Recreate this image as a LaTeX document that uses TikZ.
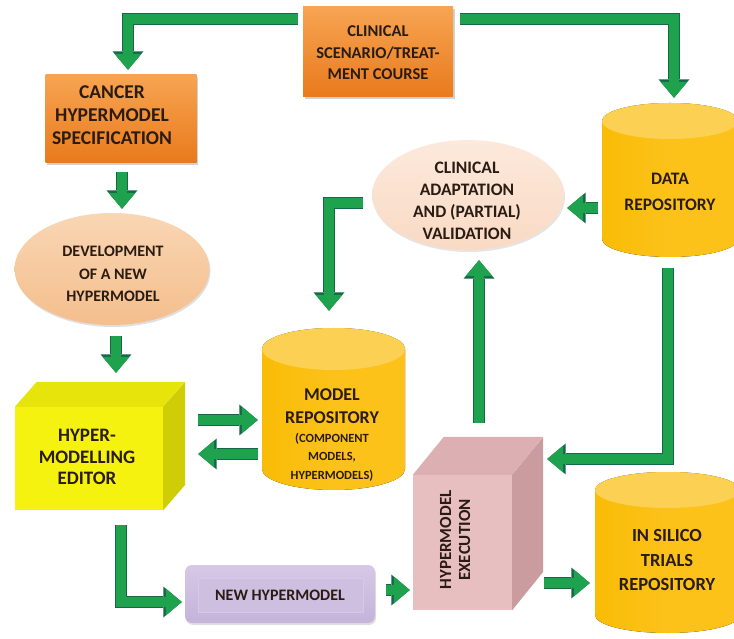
\documentclass[tikz,border=0pt]{standalone}
\usepackage{fontspec}
\setmainfont{Carlito}
\usetikzlibrary{arrows.meta,shapes.geometric,shadows}
\definecolor{gfill}{HTML}{1FA24E}
\definecolor{gline}{HTML}{17664A}
\definecolor{txt}{HTML}{2A1C12}
\definecolor{orng}{HTML}{F28A2A}
\definecolor{orngl}{HTML}{F7A452}
\definecolor{orngd}{HTML}{E97A1C}
\definecolor{cylb}{HTML}{F9BC06}
\definecolor{cylbl}{HTML}{FCC21A}
\definecolor{cylt}{HTML}{FBD053}
\definecolor{peach}{HTML}{F4BE8C}
\definecolor{peachl}{HTML}{F9D6B4}
\definecolor{peach2}{HTML}{F9DAC4}
\definecolor{peach2l}{HTML}{FCE9DC}
\definecolor{yfront}{HTML}{F4F20E}
\definecolor{ytop}{HTML}{E6E40A}
\definecolor{yside}{HTML}{CFCD05}
\definecolor{pfront}{HTML}{E8BFC1}
\definecolor{ptop}{HTML}{DCB0B3}
\definecolor{pside}{HTML}{CA9CA0}
\definecolor{lav}{HTML}{C5B3DA}
\definecolor{lavl}{HTML}{D6C8E6}
\tikzset{
  lbl/.style={text=txt, font=\bfseries\fontsize{15}{21.5}\selectfont, align=center, inner sep=0pt},
  obox/.style={rectangle, top color=orngl, bottom color=orngd, draw=none,
    drop shadow={opacity=0.35, shadow xshift=1.5pt, shadow yshift=-2pt}},
  oval/.style={ellipse, inner sep=0pt},
  cylbody/.style={left color=cylb, right color=cylbl, middle color=cylbl},
  cyltop/.style={fill=cylt},
  garrow/.style={line width=10pt, draw=gfill,
    -{Triangle[width=27pt,length=16pt,line width=0pt]},
    preaction={draw=gline, line width=12.5pt,
      -{Triangle[width=31pt,length=18.5pt,line width=0pt]}}},
}
\newcommand{\mycyl}[5]{% left, top, right, bottom, ry
  \pgfmathsetmacro{\cx}{(#1+#3)/2}
  \pgfmathsetmacro{\rx}{(#3-#1)/2}
  \fill[cylbody] (#1,#2-#5) -- (#1,#4+#5) arc[start angle=180,end angle=360,x radius=\rx,y radius=#5]
     -- (#3,#2-#5) arc[start angle=0,end angle=180,x radius=\rx,y radius=#5] -- cycle;
  \fill[cyltop] (\cx,#2-#5) ellipse[x radius=\rx,y radius=#5];
}
\begin{document}
\begin{tikzpicture}[x=1pt,y=1pt]
\clip (0,0) rectangle (734,638);
\fill[white] (0,0) rectangle (734,638);

% orange boxes
\node[obox, minimum width=150pt, minimum height=90pt] (clin) at (378,586) {};
\node[lbl, font=\bfseries\fontsize{16.5}{21.5}\selectfont] (clint) at (378,585) {CLINICAL\\SCENARIO/TREAT-\\MENT COURSE};
\node[obox, minimum width=151pt, minimum height=88pt] (spec) at (121,519) {};
\node[lbl, font=\bfseries\fontsize{19.5}{23}\selectfont] (spect) at (112,523) {CANCER\\HYPERMODEL\\SPECIFICATION};

% ellipses
\node[oval, minimum width=195pt, minimum height=112pt, top color=peachl, bottom color=peach,
  drop shadow={opacity=0.25, shadow xshift=1pt, shadow yshift=-2pt}] (dev) at (112,369) {};
\node[lbl, font=\bfseries\fontsize{16}{22.5}\selectfont] (devt) at (113,364) {DEVELOPMENT\\OF A NEW\\HYPERMODEL};
\node[oval, minimum width=192pt, minimum height=110pt, top color=peach2l, bottom color=peach2,
  drop shadow={opacity=0.2, shadow xshift=1pt, shadow yshift=-2pt}] (adapt) at (468,443) {};
\node[lbl, font=\bfseries\fontsize{17.5}{22}\selectfont] (adaptt) at (467,437) {CLINICAL\\ADAPTATION\\AND (PARTIAL)\\VALIDATION};

% cylinders
\mycyl{602}{535}{738}{381}{18}
\node[minimum width=136pt, minimum height=154pt, inner sep=0pt] (data) at (670,458) {};
\node[lbl, font=\bfseries\fontsize{17.5}{26}\selectfont] (datat) at (670,446) {DATA\\REPOSITORY};

\mycyl{262}{310}{405}{148}{21}
\node[minimum width=143pt, minimum height=162pt, inner sep=0pt] (model) at (333.5,229) {};
\node[lbl, font=\bfseries\fontsize{18}{23.5}\selectfont] (modelt) at (332,232) {MODEL\\REPOSITORY};
\node[lbl, font=\bfseries\fontsize{12.5}{18.5}\selectfont] (modelt2) at (332,181) {(COMPONENT\\MODELS,\\HYPERMODELS)};

\mycyl{595}{166}{740}{5}{18}
\node[minimum width=145pt, minimum height=161pt, inner sep=0pt] (sil) at (667.5,85.5) {};
\node[lbl, font=\bfseries\fontsize{18.5}{24.5}\selectfont] (silt) at (667,78) {IN SILICO\\TRIALS\\REPOSITORY};

% editor cube
\node[rectangle, fill=yfront, minimum width=148pt, minimum height=103pt, inner sep=0pt] (ed) at (89,179.5) {};
\fill[ytop] (ed.north west) -- ++(22,25) -- ++(148,0) -- (ed.north east) -- cycle;
\fill[yside] (ed.north east) -- ++(22,25) -- ++(0,-103) -- (ed.south east) -- cycle;
\node[lbl, font=\bfseries\fontsize{19}{21.5}\selectfont] (edt) at (87,181) {HYPER-\\MODELLING\\EDITOR};

% execution cube
\node[rectangle, fill=pfront, minimum width=99pt, minimum height=135pt, inner sep=0pt] (ex) at (462.5,95.5) {};
\fill[ptop] (ex.north west) -- ++(31,38) -- ++(99,0) -- (ex.north east) -- cycle;
\fill[pside] (ex.north east) -- ++(31,38) -- ++(0,-135) -- (ex.south east) -- cycle;
\node[lbl, rotate=90, font=\bfseries\fontsize{17}{19}\selectfont] (ext) at (455,98) {HYPERMODEL\\EXECUTION};

% new hypermodel
\node[rectangle, rounded corners=7pt, top color=lavl, bottom color=lav, minimum width=190pt, minimum height=58pt, inner sep=0pt,
  drop shadow={opacity=0.25, shadow xshift=1pt, shadow yshift=-2pt}] (nh) at (280,44) {};
\node[rectangle, draw=lavl, line width=1pt, fill=lav!85!white, minimum width=165pt, minimum height=34pt] (nhi) at (280.5,43) {};
\node[lbl, font=\bfseries\fontsize{16}{20}\selectfont] (nht) at (280,43) {NEW HYPERMODEL};

% arrows
\draw[garrow] ([xshift=-5pt,yshift=33pt]clin.west) -| ([xshift=7pt,yshift=5pt]spec.north);
\draw[garrow] ([xshift=7pt,yshift=33pt]clin.east) -| ([xshift=4pt,yshift=5pt]data.north);
\draw[garrow] ([xshift=1pt,yshift=-9pt]spec.south) -- ([xshift=1pt,yshift=4pt]spec.south |- dev.north);
\draw[garrow] ([xshift=4pt,yshift=-11pt]dev.south) -- ([xshift=27pt,yshift=34pt]ed.north);
\draw[garrow] ([xshift=35pt,yshift=38.5pt]ed.east) -- ([xshift=-4pt,yshift=-11pt]model.west);
\draw[garrow] ([xshift=-4pt,yshift=-45pt]model.west) -- ([xshift=35pt,yshift=4.5pt]ed.east);
\draw[garrow] ([xshift=-9pt,yshift=-8pt]adapt.west) -| ([xshift=-4.5pt,yshift=17pt]model.north);
\draw[garrow] ([xshift=-4pt,yshift=-28pt]data.west) -- ([xshift=3pt,yshift=-13pt]adapt.east);
\draw[garrow] ([xshift=16.5pt,yshift=52pt]ex.north) -- ([xshift=11pt,yshift=-10pt]adapt.south);
\draw[garrow] ([xshift=-2pt,yshift=-11pt]data.south) |- ([xshift=35pt,yshift=83.5pt]ex.east);
\draw[garrow] ([xshift=32pt,yshift=-15pt]ed.south) |- ([xshift=-3pt,yshift=-8pt]nh.west);
\draw[garrow] ([xshift=11pt,yshift=4pt]nh.east) -- ([xshift=-3pt,yshift=-47.5pt]ex.west);
\draw[garrow] ([xshift=32pt,yshift=-40.5pt]ex.east) -- ([xshift=-5pt,yshift=-30.5pt]sil.west);
\end{tikzpicture}
\end{document}
